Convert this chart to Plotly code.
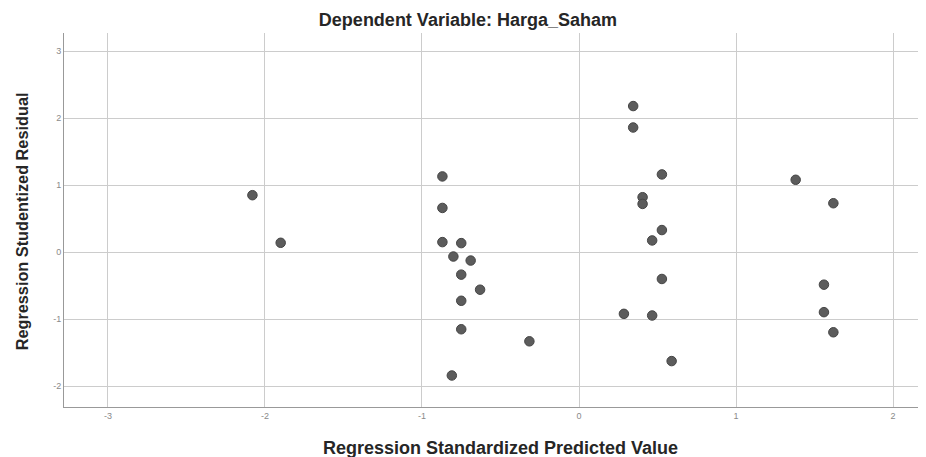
import plotly.graph_objects as go

predicted = [-2.08, -1.90, -0.87, -0.87, -0.87, -0.75, -0.80, -0.69, -0.75, -0.63,
             -0.75, -0.75, -0.316, -0.81, 0.345, 0.345, 0.528, 0.405, 0.405, 0.528,
             0.466, 0.528, 0.286, 0.466, 0.59, 1.38, 1.62, 1.56, 1.56, 1.62]
residual = [0.85, 0.14, 1.13, 0.66, 0.15, 0.135, -0.065, -0.125, -0.335, -0.56,
            -0.725, -1.15, -1.33, -1.84, 2.18, 1.86, 1.16, 0.82, 0.72, 0.33,
            0.175, -0.40, -0.92, -0.945, -1.625, 1.08, 0.73, -0.485, -0.895, -1.195]

x_ticks = [-3, -2, -1, 0, 1, 2]
y_ticks = [-2, -1, 0, 1, 2, 3]

title_text = "Dependent Variable: Harga_Saham"
x_title = "Regression Standardized Predicted Value"
y_title = "Regression Studentized Residual"

FONT = "Liberation Sans, Arial, sans-serif"

fig = go.Figure(go.Scatter(
    x=predicted, y=residual, mode="markers",
    marker=dict(size=9.5, color="#5c5c5c", line=dict(color="#454545", width=1)),
    showlegend=False,
))

# The page body adds an 8px margin, so the figure is sized 8px smaller.
fig.update_layout(
    width=918, height=449,
    margin=dict(l=56, r=0, t=25, b=50),
    paper_bgcolor="white", plot_bgcolor="white",
    font=dict(family=FONT),
    title=dict(text="<b>" + title_text + "</b>", x=0.501, xanchor="center",
               y=0.973, yanchor="middle", font=dict(size=18, color="#262626")),
    annotations=[
        dict(text="<b>" + x_title + "</b>", xref="paper", yref="paper",
             x=0.506, y=0, xanchor="center", yanchor="middle", yshift=-41,
             showarrow=False, font=dict(size=18, color="#262626")),
        dict(text="<b>" + y_title + "</b>", xref="paper", yref="paper",
             x=0, y=0.495, xanchor="center", yanchor="middle", xshift=-42.5,
             textangle=-90, showarrow=False, font=dict(size=16.3, color="#262626")),
    ],
)
fig.update_xaxes(
    range=[-3.28, 2.21], tickvals=x_ticks, ticktext=[str(v) for v in x_ticks],
    showgrid=True, gridcolor="#cccccc", gridwidth=1, zeroline=False,
    showline=True, linecolor="#999999", linewidth=1, automargin=False,
    tickfont=dict(size=9, color="#8a8a8a"), ticks="",
)
fig.update_yaxes(
    range=[-2.31, 3.27], tickvals=y_ticks, ticktext=[str(v) for v in y_ticks],
    showgrid=True, gridcolor="#cccccc", gridwidth=1, zeroline=False,
    showline=True, linecolor="#999999", linewidth=1, automargin=False,
    tickfont=dict(size=9, color="#8a8a8a"), ticks="",
)

fig.write_html("out.html")
